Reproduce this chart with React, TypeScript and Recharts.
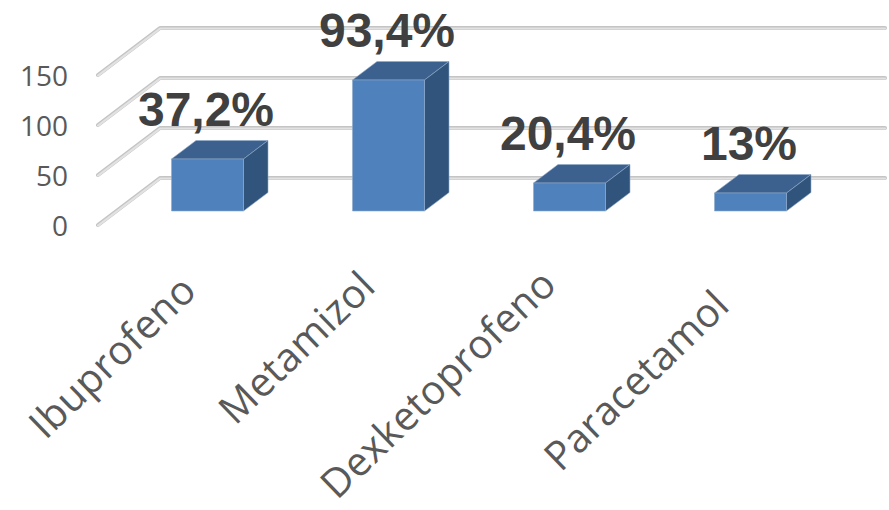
import React from 'react';
import { BarChart, Bar, XAxis, YAxis, CartesianGrid, LabelList } from 'recharts';

const categories = ['Ibuprofeno', 'Metamizol', 'Dexketoprofeno', 'Paracetamol'];
const counts = [52, 131, 28, 18];
const percentLabels = ['37,2%', '93,4%', '20,4%', '13%'];
const yTicks = [0, 50, 100, 150];

const data = categories.map((name, i) => ({ name, count: counts[i], label: percentLabels[i] }));

// 3D look: walls recede by this much, bars sit part way into the depth
const WALL_DX = 62;
const WALL_DY = -47;
const BAR_SHIFT_X = 18.5;
const BAR_SHIFT_Y = -14;
const BAR_DX = 24.5;
const BAR_DY = -18.5;
const GRID_RIGHT = 885;

// the labels in the picture do not line up exactly, so each gets its own nudge
const tickNudge: Record<string, [number, number]> = {
  Ibuprofeno: [10, 60],
  Metamizol: [8, 56],
  Dexketoprofeno: [8, 54],
  Paracetamol: [0, 75],
};

const GridLine = (props: any) => {
  const { x1, y1 } = props;
  const pts = `${x1},${y1} ${x1 + WALL_DX},${y1 + WALL_DY} ${GRID_RIGHT},${y1 + WALL_DY}`;
  return (
    <g key={props.key ?? y1}>
      <polyline points={pts} fill="none" stroke="#C4C4C4" strokeWidth={4} strokeLinecap="round" strokeLinejoin="round" />
      <polyline points={pts} fill="none" stroke="#E2E2E2" strokeWidth={2} strokeLinecap="round" strokeLinejoin="round" transform="translate(0,0.6)" />
    </g>
  );
};

const Box3D = (props: any) => {
  const { x, y, width, height } = props;
  const l = x + BAR_SHIFT_X;
  const r = l + width;
  const t = y + BAR_SHIFT_Y;
  const b = t + height;
  return (
    <g stroke="#8FA9C9" strokeWidth={0.6} strokeLinejoin="round">
      <polygon points={`${l},${t} ${l + BAR_DX},${t + BAR_DY} ${r + BAR_DX},${t + BAR_DY} ${r},${t}`} fill="#3C618F" />
      <polygon points={`${r},${t} ${r + BAR_DX},${t + BAR_DY} ${r + BAR_DX},${b + BAR_DY} ${r},${b}`} fill="#31547C" />
      <rect x={l} y={t} width={width} height={height} fill="#4F81BD" />
    </g>
  );
};

const PercentLabel = (props: any) => {
  const { x, y, width, value } = props;
  return (
    <text
      x={x + width / 2 + 17}
      y={y - 47}
      textAnchor="middle"
      fontFamily="'Liberation Sans', Arial, sans-serif"
      fontWeight={700}
      fontSize={48}
      fill="#404040"
    >
      {value}
    </text>
  );
};

const CategoryTick = (props: any) => {
  const { x, y, payload } = props;
  const [dx, dy] = tickNudge[payload.value] ?? [0, 60];
  return (
    <g transform={`translate(${x + dx},${y + dy})`}>
      <text
        transform="rotate(-44)"
        textAnchor="end"
        fontFamily="'Open Sans', sans-serif"
        fontSize={40}
        letterSpacing={0.3}
        fill="#595959"
      >
        {payload.value}
      </text>
    </g>
  );
};

export default function App() {
  return (
    <div style={{ position: 'absolute', left: 0, top: 0, width: 889, height: 510, background: '#fff' }}>
      <BarChart width={889} height={510} data={data} margin={{ top: 75, right: 67, bottom: 0, left: 18 }}>
        <CartesianGrid vertical={false} horizontal={GridLine} />
        <XAxis
          dataKey="name"
          axisLine={false}
          tickLine={false}
          height={285}
          interval={0}
          tick={<CategoryTick />}
        />
        <YAxis
          domain={[0, 150]}
          ticks={yTicks}
          width={80}
          axisLine={false}
          tickLine={false}
          tickMargin={24}
          tick={{ fontSize: 28, dy: 1, fill: '#595959', fontFamily: "'Open Sans', sans-serif" }}
        />
        <Bar dataKey="count" barSize={72} shape={<Box3D />} isAnimationActive={false}>
          <LabelList dataKey="label" content={<PercentLabel />} />
        </Bar>
      </BarChart>
    </div>
  );
}
